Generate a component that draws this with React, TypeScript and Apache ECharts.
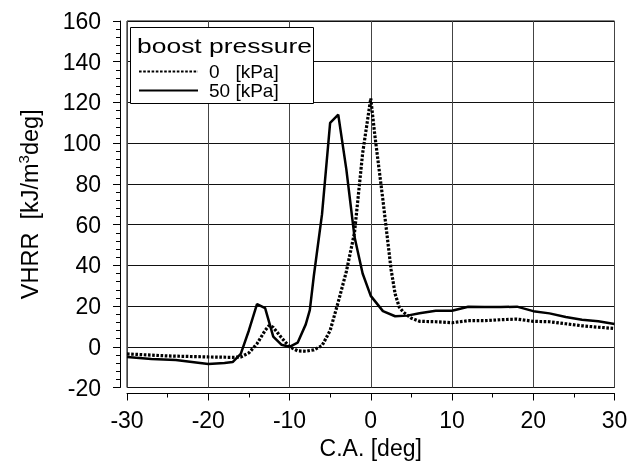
import React, { useEffect, useRef } from 'react';
import * as echarts from 'echarts';

// 0 kPa boost pressure (dotted)
const crankAngle0 = [-30, -25, -20, -17, -16, -15, -14, -13, -12.5, -12, -11, -10, -9, -8, -7, -6, -5, -4, -3, -2, -1, 0, 0.5, 1, 1.5, 2, 2.5, 3, 3.5, 4, 5, 6, 8, 10, 12, 14, 16, 18, 20, 22, 24, 26, 28, 30];
const vhrr0 = [-3.5, -4.5, -5, -5.2, -5, -3, 1.5, 8, 10.5, 9.5, 4.5, 0, -2, -2.2, -1.5, 0.5, 8, 22, 37, 56, 95, 122, 104, 88, 72, 55, 38, 26, 19.5, 17, 14, 12.5, 12.3, 11.8, 12.8, 12.8, 13.3, 13.6, 12.5, 12.3, 11.3, 10.3, 9.6, 9.0];

// 50 kPa boost pressure (solid)
const crankAngle50 = [-30, -27, -24, -22, -20, -18, -17, -16, -15, -14, -13, -12, -11, -10, -9, -8, -7.5, -7, -6, -5, -4, -3, -2, -1, 0, 1.5, 3, 4.5, 6, 8, 10, 12, 14, 16, 18, 20, 22, 24, 26, 28, 30];
const vhrr50 = [-5, -6, -6.5, -7.5, -8.5, -8, -7.5, -3.5, 8, 21, 19, 5, 1, 0, 2, 11, 18, 35, 65, 110, 114, 87, 54, 36, 25, 17.5, 15, 15.3, 16.5, 17.7, 17.7, 19.7, 19.5, 19.5, 19.7, 17.5, 16.4, 14.6, 13.3, 12.5, 11.2];

const seriesNames = ['0\u00a0\u00a0\u00a0[kPa]', '50 [kPa]'];
const legendTitle = 'boost pressure';
const xName = 'C.A. [deg]';

const FONT = 'Liberation Sans, Arial, sans-serif';

export default function App() {
  const ref = useRef<HTMLDivElement>(null);
  useEffect(() => {
    const chart = echarts.init(ref.current!, null, { renderer: 'svg' });
    const d0 = crankAngle0.map((x, i) => [x, vhrr0[i]]);
    const d50 = crankAngle50.map((x, i) => [x, vhrr50[i]]);
    chart.setOption({
      animation: false,
      textStyle: { fontFamily: FONT, color: '#000' },
      grid: {
        left: 127, right: 24.5, top: 21, bottom: 81.5,
        show: true, borderColor: '#000', borderWidth: 1,
      },
      xAxis: {
        type: 'value', min: -30, max: 30, interval: 10, offset: 6,
        axisLine: { show: true, onZero: false, lineStyle: { color: '#000', width: 1 } },
        axisTick: { show: true, length: 7, lineStyle: { color: '#000' } },
        minorTick: { show: true, splitNumber: 2, length: 4, lineStyle: { color: '#000' } },
        splitLine: { show: true, lineStyle: { color: '#444', width: 1 } },
        axisLabel: { fontSize: 23, color: '#000', margin: 15, fontFamily: FONT },
        name: xName, nameLocation: 'middle', nameGap: 43,
        nameTextStyle: { fontSize: 23, color: '#000', fontFamily: FONT },
      },
      yAxis: {
        type: 'value', min: -20, max: 160, interval: 20, offset: 7,
        axisLine: { show: true, onZero: false, lineStyle: { color: '#000', width: 1 } },
        axisTick: { show: true, length: 7, lineStyle: { color: '#000' } },
        minorTick: { show: true, splitNumber: 5, length: 4, lineStyle: { color: '#000' } },
        splitLine: { show: true, lineStyle: { color: '#111', width: 1 } },
        axisLabel: { fontSize: 23, color: '#000', margin: 19, fontFamily: FONT },
        name: '{a|VHRR  [kJ/m}{s|3}{a|deg]}', nameLocation: 'middle', nameGap: 77,
        nameTextStyle: {
          color: '#000', fontFamily: FONT,
          rich: {
            a: { fontSize: 23.5, fontFamily: FONT, color: '#000', lineHeight: 27 },
            s: { fontSize: 15, fontFamily: FONT, color: '#000', verticalAlign: 'top', lineHeight: 15 },
          },
        },
      },
      legend: {
        show: true, orient: 'vertical', left: 138, top: 62, padding: 0,
        itemWidth: 59, itemHeight: 14, itemGap: 0, z: 20,
        data: seriesNames,
        formatter: (n: string) => `{t|${n}}`,
        itemStyle: { color: 'rgba(0,0,0,0)', borderColor: 'rgba(0,0,0,0)', borderWidth: 0 },
        textStyle: {
          fontSize: 19, color: '#000', fontFamily: FONT,
          rich: { t: { fontSize: 19, fontFamily: FONT, color: '#000', lineHeight: 17, height: 17, padding: [0, 0, 0, 6] } },
        },
      },
      graphic: [
        { type: 'rect', z: 10, shape: { x: 130.5, y: 27.5, width: 183, height: 76 }, style: { fill: '#fff', stroke: '#000', lineWidth: 1 } },
        { type: 'text', z: 20, x: 137, y: 35, scaleX: 1.26, style: { text: legendTitle, fontSize: 21, fontFamily: FONT, fill: '#000' } },
      ],
      series: [
        {
          name: seriesNames[0], type: 'line', data: d0, symbol: 'none', showSymbol: false, z: 3,
          lineStyle: { color: '#000', width: 3.2, type: [2.6, 1.6] },
          itemStyle: { color: '#000' },
        },
        {
          name: seriesNames[1], type: 'line', data: d50, symbol: 'none', showSymbol: false, z: 4,
          lineStyle: { color: '#000', width: 2.5, type: 'solid' },
          itemStyle: { color: '#000' },
        },
      ],
    });
    return () => chart.dispose();
  }, []);
  return <div ref={ref} style={{ position: 'fixed', left: 0, top: 0, width: 639, height: 469 }} />;
}
